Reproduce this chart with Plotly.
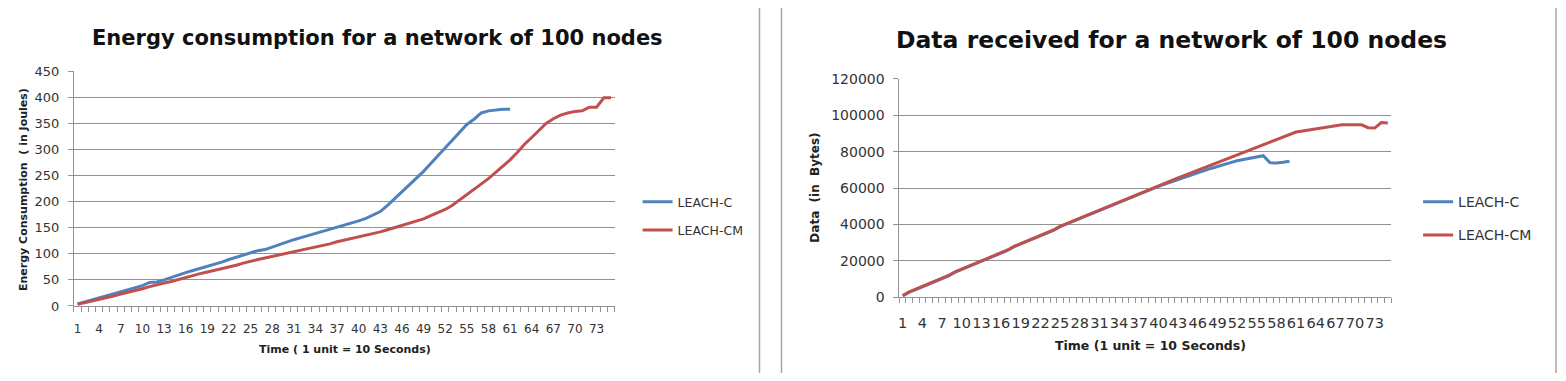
import plotly.graph_objects as go

W, H = 1566, 381

time_steps = list(range(1, 76))
tick_labels = list(range(1, 74, 3))

energy_leach_c = [4, 8, 12, 16, 19, 23, 27, 31, 35, 39, 45, 46, 50, 55, 59, 64, 68, 72, 76, 79,
                  84, 89, 93, 98, 102, 106, 108, 113, 117, 122, 127, 131, 135, 138, 142, 146, 150, 154, 158, 163,
                  168, 174, 181, 193, 206, 218, 232, 245, 258, 273, 288, 303, 318, 333, 348, 358, 370, 374, 376, 377,
                  377]
energy_leach_cm = [3, 6, 9, 12, 16, 19, 23, 26, 30, 33, 37, 41, 44, 47, 51, 55, 58, 62, 65, 68,
                   71, 75, 78, 82, 86, 89, 92, 95, 98, 100, 103, 107, 110, 113, 116, 119, 123, 126, 130, 133,
                   136, 139, 142, 146, 150, 154, 158, 162, 167, 173, 179, 185, 193, 203, 214, 223, 233, 244, 256, 268,
                   280, 294, 310, 323, 337, 350, 359, 366, 370, 373, 374, 381, 381, 399, 399]

data_leach_c = [800, 2800, 4300, 5800, 7300, 8800, 10300, 11800, 13800, 15300, 16800, 18300, 19800, 21300, 22800,
                24300, 25800, 27800, 29300, 30800, 32300, 33800, 35300, 36800, 38800, 40300, 41800, 43300, 44800,
                46300, 47500, 49000, 50500, 52000, 53500, 55000, 56500, 58000, 59500, 61000, 62200, 63500, 64800,
                66000, 67200, 68400, 69600, 70800, 72000, 73000, 74000, 75000, 75800, 76600, 77200, 77800, 74000,
                73800, 74200, 74800]
data_leach_cm = [1000, 3000, 4500, 6000, 7500, 9000, 10500, 12000, 14000, 15500, 17000, 18500, 20000, 21500, 23000,
                 24500, 26000, 28000, 29500, 31000, 32500, 34000, 35500, 37000, 39000, 40500, 42000, 43500, 45000,
                 46500, 48000, 49500, 51000, 52500, 54000, 55500, 57000, 58500, 60000, 61400, 62800, 64200, 65600,
                 67000, 68400, 69800, 71200, 72600, 74000, 75400, 76800, 78200, 79600, 81000, 82400, 83800, 85200,
                 86600, 88000, 89400, 90800, 91400, 92000, 92600, 93200, 93800, 94500, 94800, 94800, 94800, 94800,
                 93200, 93000, 96000, 95800]

BLUE = "#4F81BD"
RED = "#C0504D"
GRID = "#939393"
TXT = "#333333"
FONT = "DejaVu Sans"

fig = go.Figure()
fig.add_trace(go.Scatter(x=time_steps[:len(energy_leach_c)], y=energy_leach_c, mode="lines", name="LEACH-C",
                         line=dict(color=BLUE, width=3), xaxis="x", yaxis="y", legend="legend", legendgroup="a"))
fig.add_trace(go.Scatter(x=time_steps[:len(energy_leach_cm)], y=energy_leach_cm, mode="lines", name="LEACH-CM",
                         line=dict(color=RED, width=3), xaxis="x", yaxis="y", legend="legend", legendgroup="b"))
fig.add_trace(go.Scatter(x=time_steps[:len(data_leach_c)], y=data_leach_c, mode="lines", name="LEACH-C",
                         line=dict(color=BLUE, width=3), xaxis="x2", yaxis="y2", legend="legend2", legendgroup="c"))
fig.add_trace(go.Scatter(x=time_steps[:len(data_leach_cm)], y=data_leach_cm, mode="lines", name="LEACH-CM",
                         line=dict(color=RED, width=3), xaxis="x2", yaxis="y2", legend="legend2", legendgroup="d"))

boundaries = [t - 0.5 for t in time_steps] + [time_steps[-1] + 0.5]


def xaxis_cfg(domain, size, anchor, standoff):
    return dict(domain=domain, anchor=anchor, range=[0.5, 75.5], tickmode="array", tickvals=tick_labels,
                ticktext=[str(t) for t in tick_labels], ticks="", showgrid=False, zeroline=False,
                showline=True, linecolor=GRID, linewidth=1, tickfont=dict(family=FONT, size=size, color=TXT),
                ticklabelstandoff=standoff, tickangle=0,
                minor=dict(tickmode="array", tickvals=boundaries, ticks="outside", ticklen=5,
                           tickcolor=GRID, tickwidth=1, showgrid=False))


def yaxis_cfg(domain, rng, dtick, size, anchor, fmt=None):
    d = dict(domain=domain, anchor=anchor, range=rng, dtick=dtick, tick0=0, showgrid=True, gridcolor=GRID,
             gridwidth=1, zeroline=False, showline=True, linecolor=GRID, linewidth=1, ticks="outside",
             ticklen=5, tickcolor=GRID, tickfont=dict(family=FONT, size=size, color=TXT), ticklabelstandoff=6)
    if fmt:
        d["tickformat"] = fmt
    return d


fig.update_layout(
    width=W, height=H, margin=dict(l=0, r=0, t=0, b=0),
    paper_bgcolor="white", plot_bgcolor="white",
    xaxis=xaxis_cfg([73 / W, 614 / W], 12, "y", 12),
    yaxis=yaxis_cfg([(H - 311) / H, (H - 66) / H], [0, 450], 50, 13, "x"),
    xaxis2=xaxis_cfg([899 / W, 1391 / W], 14.5, "y2", 12),
    yaxis2=yaxis_cfg([(H - 302) / H, (H - 74) / H], [0, 120000], 20000, 14, "x2", "d"),
    legend=dict(x=637 / W, y=(H - 187) / H, xanchor="left", yanchor="top", bgcolor="rgba(0,0,0,0)",
                font=dict(family=FONT, size=12.5, color=TXT), tracegroupgap=9, itemwidth=30,
                traceorder="grouped"),
    legend2=dict(x=1418 / W, y=(H - 186) / H, xanchor="left", yanchor="top", bgcolor="rgba(0,0,0,0)",
                 font=dict(family=FONT, size=14, color=TXT), tracegroupgap=12, itemwidth=30,
                 traceorder="grouped"),
    showlegend=True,
)

annots = [
    dict(text="<b>Energy consumption for a network of 100 nodes</b>", x=377 / W, y=(H - 31) / H,
         font=dict(family=FONT, size=21, color="#111111")),
    dict(text="<b>Data received for a network of 100 nodes</b>", x=1171 / W, y=(H - 33) / H,
         font=dict(family=FONT, size=23.5, color="#111111")),
    dict(text="<b>Energy Consumption  ( in Joules)</b>", x=22 / W, y=(H - 189) / H, textangle=-90,
         font=dict(family=FONT, size=11, color="#222222")),
    dict(text="<b>Data  (in  Bytes)</b>", x=815 / W, y=(H - 187) / H, textangle=-90,
         font=dict(family=FONT, size=12, color="#222222")),
    dict(text="<b>Time ( 1 unit = 10 Seconds)</b>", x=344 / W, y=(H - 356) / H,
         font=dict(family=FONT, size=11, color="#222222")),
    dict(text="<b>Time (1 unit = 10 Seconds)</b>", x=1150 / W, y=(H - 352) / H,
         font=dict(family=FONT, size=12.5, color="#222222")),
]
for a in annots:
    fig.add_annotation(xref="paper", yref="paper", showarrow=False, xanchor="center", yanchor="middle", **a)

for xp in [759, 781, 1556]:
    fig.add_shape(type="line", xref="paper", yref="paper", x0=xp / W, x1=xp / W, y0=0, y1=1,
                  line=dict(color="#a6a6a6", width=1.5))

fig.write_html("out.html")
